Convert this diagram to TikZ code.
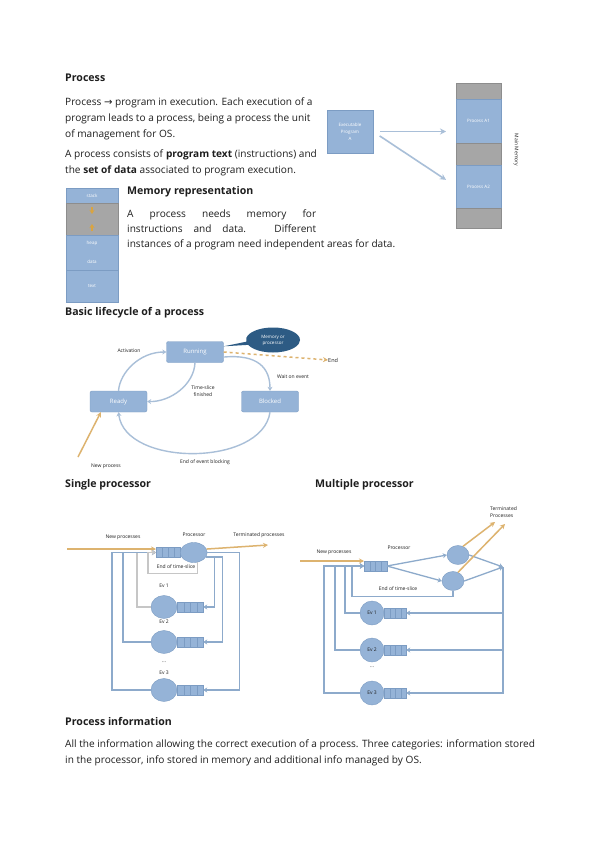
\documentclass[tikz,border=0pt]{standalone}
\usepackage{fontspec}
\setmainfont{Open Sans}
\newfontfamily\arrowsym{DejaVu Sans}
\usetikzlibrary{arrows.meta, positioning, calc, shapes.geometric, shapes.callouts}
\definecolor{ink}{HTML}{1E1E1E}
\definecolor{boxblue}{HTML}{95B3D7}
\definecolor{boxline}{HTML}{7C9CC3}
\definecolor{memgray}{HTML}{A6A6A6}
\definecolor{flowblue}{HTML}{8DAACB}
\definecolor{arcblue}{HTML}{A9BFD8}
\definecolor{slicegray}{HTML}{C6C6C6}
\definecolor{gold}{HTML}{DDB36F}
\definecolor{groworange}{HTML}{D9A441}
\definecolor{deepblue}{HTML}{2D5B84}

\begin{document}
\begin{tikzpicture}[x=1pt, y=-1pt,
    every node/.style={text=ink},
    hd/.style={font=\bfseries\fontsize{10.6}{12}\selectfont, anchor=west, inner sep=0pt},
    bodytxt/.style={font=\fontsize{10.1}{16}\selectfont, anchor=north west, align=left, inner sep=0pt},
    lbl/.style={font=\fontsize{5}{7}\selectfont, inner sep=0pt, align=center},
    seg/.style={draw=boxline, fill=boxblue, minimum width=#1, inner sep=0pt, outer sep=0pt,
                text=white, font=\fontsize{4.5}{7}\selectfont},
    memgap/.style={seg=#1, fill=memgray, draw=memgray!85!black},
    stbox/.style={draw=boxline, fill=boxblue, rounded corners=2pt, minimum width=57pt,
                  minimum height=21pt, text=white, font=\fontsize{6}{7}\selectfont},
    cpu/.style={ellipse, draw=boxline, fill=boxblue, inner sep=0pt, minimum width=#1,
                font=\fontsize{5}{6}\selectfont},
    queue/.style={draw=boxline, fill=boxblue, minimum width=#1, minimum height=10pt,
                  inner sep=0pt, outer sep=0pt, path picture={
                  \foreach \k in {0.25,0.5,0.75}
                    \draw[boxline] ($(path picture bounding box.south west)!\k!(path picture bounding box.south east)$)
                      -- ($(path picture bounding box.north west)!\k!(path picture bounding box.north east)$);}},
    flow/.style={draw=flowblue, line width=1.3pt, -{Stealth[length=4pt, width=5pt]}},
    slice/.style={flow, draw=slicegray},
    lifearr/.style={draw=arcblue, line width=1.4pt, -{Stealth[length=4pt, width=5pt]}},
    newarr/.style={draw=gold, line width=1.5pt, -{Stealth[length=5pt, width=5pt]}},
    bigarr/.style={draw=arcblue, line width=1.6pt, -{Stealth[length=6pt, width=6pt]}}
]
    \fill[white] (0,0) rectangle (599,848);
    \useasboundingbox (0,0) rectangle (599,848);

    % process
    \node[hd] (hproc) at (65,78) {Process};
    \node[bodytxt] (ptxt) at (65,98) {Process {\arrowsym →} program in execution. Each execution of a\\
        program leads to a process, being a process the unit\\ of management for OS.};
    \node[bodytxt] (pdata) at (65,150) {A process consists of \textbf{program text} (instructions) and\\
        the \textbf{set of data} associated to program execution.};

    % executable and main memory
    \node[seg=46pt, minimum height=43pt, align=center] (exe) at (350,131.5) {Executable\\Program\\A};
    \node[memgap=45pt, minimum height=16pt] (mg1) at (478.5,91) {};
    \node[seg=45pt, minimum height=44pt, below=0pt of mg1] (pa1) {Process A1};
    \node[memgap=45pt, minimum height=22pt, below=0pt of pa1] (mg2) {};
    \node[seg=45pt, minimum height=43pt, below=0pt of mg2] (pa2) {Process A2};
    \node[memgap=45pt, minimum height=20pt, below=0pt of pa2] (mg3) {};
    \node[lbl, rotate=-90] (mainmem) at (516,150) {Main Memory};
    \draw[bigarr, shorten <=7pt, shorten >=10pt] (exe.east) -- (pa1.west |- exe.east);
    \draw[bigarr, shorten <=8pt, shorten >=12pt] (exe.east) -- (pa2.west);

    % memory representation
    \node[seg=52pt, minimum height=15pt] (stk) at (92,195.5) {stack};
    \node[memgap=52pt, minimum height=32pt, below=0pt of stk] (grow) {};
    \node[seg=52pt, minimum height=35pt, below=0pt of grow, align=center,
          font=\fontsize{4.5}{19}\selectfont] (heap) {heap\\data};
    \node[seg=52pt, minimum height=32pt, below=0pt of heap] (txtseg) {text};
    \draw[groworange, line width=1.2pt, -{Stealth[length=4pt, width=5pt]}] ([yshift=-4pt]grow.north) -- ([yshift=5pt]grow.center);
    \draw[groworange, line width=1.2pt, -{Stealth[length=4pt, width=5pt]}] ([yshift=4pt]grow.south) -- ([yshift=-5pt]grow.center);
    \node[hd] (hmem) at (127,192) {Memory representation};
    \node[bodytxt, font=\fontsize{10.1}{15}\selectfont] (memtxt) at (127,210)
        {\makebox[189pt][s]{A process needs memory for}\\
         \makebox[189pt][s]{instructions and data. Different}\\
         instances of a program need independent areas for data.};

    % lifecycle
    \node[hd] (hlife) at (65,313) {Basic lifecycle of a process};
    \node[stbox] (running) at (195,352) {Running};
    \node[stbox] (ready) at (118.5,401.5) {Ready};
    \node[stbox] (blocked) at (270,401.5) {Blocked};
    \node[ellipse callout, fill=deepblue, text=white, font=\fontsize{4.5}{6}\selectfont, align=center,
          minimum width=54pt, minimum height=25pt, inner sep=0pt,
          callout absolute pointer={($(running.north east)+(0,5)$)}] (memcall) at (273,340) {Memory or\\processor};
    \node[lbl, font=\fontsize{5.5}{7}\selectfont, anchor=west] (endl) at (328,360) {End};
    \draw[newarr, dashed] (running.east) -- (endl.west);
    \draw[lifearr] (ready.north) .. controls (120,372) and (140,352) .. (running.west);
    \node[lbl] (act) at (129,351) {Activation};
    \draw[lifearr] (running.south) .. controls (194,385) and (170,402) .. (ready.east);
    \node[lbl] (tsf) at (203,391) {Time-slice\\finished};
    \draw[lifearr] (running.-10) .. controls (258,354) and (270,368) .. (blocked.north);
    \node[lbl] (woe) at (293,377) {Wait on event};
    \draw[lifearr] (blocked.south) .. controls (262,467) and (125,467) .. (ready.south);
    \node[lbl] (eeb) at (205,462) {End of event blocking};
    \coordinate (npstart) at (78,457);
    \draw[newarr] (npstart) -- ([xshift=11pt]ready.south west);
    \node[lbl] (npl) at (106,466) {New process};

    % single processor
    \node[hd] (hsingle) at (65,485) {Single processor};
    \node[queue=24pt] (sq) at (168,552.5) {};
    \node[cpu=27pt, minimum height=20pt, right=0pt of sq] (sp) {};
    \node[lbl] (sproc) at (194,535) {Processor};
    \coordinate (snew) at (67,549);
    \draw[newarr] (snew) -- (sq.west |- snew);
    \node[lbl] (snewl) at (123,537) {New processes};
    \coordinate (sterm) at (268,545);
    \draw[newarr] (sp.15) -- (sterm);
    \node[lbl] (sterml) at (259,535) {Terminated processes};
    \node[cpu=26pt, minimum height=23pt] (se1) at (164,607) {};
    \node[queue=26pt, right=0pt of se1] (sq1) {};
    \node[cpu=26pt, minimum height=23pt] (se2) at (164,642) {};
    \node[queue=26pt, right=0pt of se2] (sq2) {};
    \node[cpu=26pt, minimum height=23pt] (se3) at (164,690) {};
    \node[queue=26pt, right=0pt of se3] (sq3) {};
    \node[lbl] (sev1) at (164,586) {Ev 1};
    \node[lbl] (sev2) at (164,622) {Ev 2};
    \node[lbl] (sdots) at (164,662) {\dots};
    \node[lbl] (sev3) at (164,673) {Ev 3};
    \draw[flow] (sp.-20) -| ([xshift=11pt]sq1.east) -- (sq1.east);
    \draw[flow] (sp.-20) -| ([xshift=19pt]sq2.east) -- (sq2.east);
    \draw[flow] (sp.east) -| ([xshift=36pt]sq3.east) -- (sq3.east);
    \draw[slice] (se1.west) -| ([xshift=-19pt]sq.west) -- (sq.west);
    \draw[flow] (se2.west) -| ([xshift=-33pt]sq.west) -- (sq.west);
    \draw[flow] (se3.west) -| ([xshift=-44pt]sq.west) -- (sq.west);
    \draw[slice] (sp.-70) -- ++(0,11) -| ([xshift=-8pt]sq.west) -- (sq.west);
    \node[lbl] (sslice) at (176,567) {End of time-slice};

    % multiple processor
    \node[hd] (hmulti) at (315,485) {Multiple processor};
    \node[queue=23pt] (mq) at (375.5,566) {};
    \node[cpu=22pt, minimum height=19pt] (mp1) at (458,555) {};
    \node[cpu=22pt, minimum height=19pt] (mp2) at (453,581) {};
    \draw[flow] (mq.east) -- (mp1.west);
    \draw[flow] (mq.east) -- (mp2.west);
    \coordinate (mjoin) at (503,567);
    \draw[flow] (mp1.east) -- (mjoin);
    \draw[flow] (mp2.east) -- (mjoin);
    \coordinate (mt1) at (495,522);
    \coordinate (mt2) at (505,524);
    \draw[newarr] (mp1.60) -- (mt1);
    \draw[newarr] (mp2.60) -- (mt2);
    \node[lbl, align=left, anchor=west] (mterm) at (490,512) {Terminated\\Processes};
    \coordinate (mnew) at (300,561);
    \draw[newarr] (mnew) -- (mq.west |- mnew);
    \node[lbl] (mnewl) at (334,552) {New processes};
    \node[lbl] (mproc) at (399,548) {Processor};
    \draw[flow] (mp2.south) -- ++(0,6) -| ([xshift=-12pt]mq.west) -- (mq.west);
    \node[lbl] (mslice) at (398,589) {End of time-slice};
    \node[cpu=24pt, minimum height=24pt] (me1) at (372,613) {Ev 1};
    \node[queue=22pt, right=0pt of me1] (mq1) {};
    \node[cpu=24pt, minimum height=24pt] (me2) at (372,650) {Ev 2};
    \node[queue=22pt, right=0pt of me2] (mq2) {};
    \node[cpu=24pt, minimum height=24pt] (me3) at (372,693) {Ev 3};
    \node[queue=22pt, right=0pt of me3] (mq3) {};
    \node[lbl] (mdots) at (372,667) {\dots};
    \draw[flow] (me1.west) -| ([xshift=-19pt]mq.west) -- (mq.west);
    \draw[flow] (me2.west) -| ([xshift=-29pt]mq.west) -- (mq.west);
    \draw[flow] (me3.west) -| ([xshift=-40pt]mq.west) -- (mq.west);
    \draw[flow] (mjoin) |- (mq1.east);
    \draw[flow] (mjoin) |- (mq2.east);
    \draw[flow] (mjoin) |- (mq3.east);

    % process information
    \node[hd] (hinfo) at (65,721) {Process information};
    \node[bodytxt] (infotxt) at (65,740) {All the information allowing the correct execution of a process. Three categories: information stored\\
        in the processor, info stored in memory and additional info managed by OS.};
\end{tikzpicture}
\end{document}
